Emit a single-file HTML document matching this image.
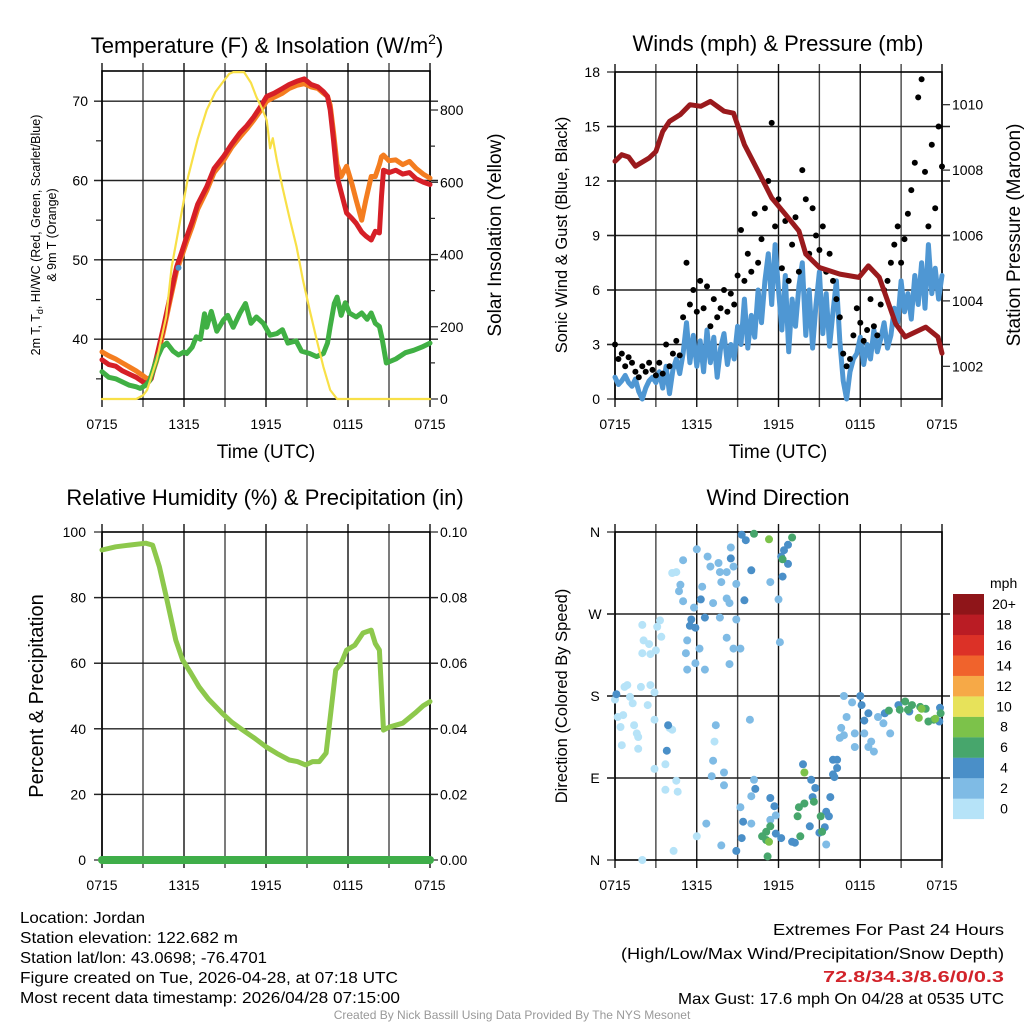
<!DOCTYPE html>
<html><head><meta charset="utf-8"><style>
html,body{margin:0;padding:0;background:#fff;}
svg{display:block;font-family:"Liberation Sans",Arial,sans-serif;}
</style></head><body>
<svg id="chart" width="1024" height="1024" viewBox="0 0 1024 1024" xmlns="http://www.w3.org/2000/svg">
<rect x="0" y="0" width="1024" height="1024" fill="#fff"/>
<g id="plots"></g>
<!-- titles -->
<text x="267" y="53" font-size="22" text-anchor="middle">Temperature (F) &amp; Insolation (W/m<tspan dy="-9" font-size="14">2</tspan><tspan dy="9">)</tspan></text>
<text x="778" y="51" font-size="22" text-anchor="middle">Winds (mph) &amp; Pressure (mb)</text>
<text x="265" y="505" font-size="22" text-anchor="middle">Relative Humidity (%) &amp; Precipitation (in)</text>
<text x="778" y="505" font-size="22" text-anchor="middle">Wind Direction</text>
<!-- axis titles -->
<text x="266" y="458" font-size="19" text-anchor="middle">Time (UTC)</text>
<text x="778" y="458" font-size="19" text-anchor="middle">Time (UTC)</text>
<text transform="translate(40,235) rotate(-90)" font-size="12.5" text-anchor="middle">2m T, T<tspan dy="3" font-size="9">d</tspan><tspan dy="-3">, HI/WC (Red, Green, Scarlet/Blue)</tspan></text>
<text transform="translate(56,235) rotate(-90)" font-size="12.5" text-anchor="middle">&amp; 9m T (Orange)</text>
<text transform="translate(501,235) rotate(-90)" font-size="19" text-anchor="middle">Solar Insolation (Yellow)</text>
<text transform="translate(567,235) rotate(-90)" font-size="16.5" text-anchor="middle">Sonic Wind &amp; Gust (Blue, Black)</text>
<text transform="translate(1020,235) rotate(-90)" font-size="19" text-anchor="middle">Station Pressure (Maroon)</text>
<text transform="translate(43,696) rotate(-90)" font-size="20" text-anchor="middle">Percent &amp; Precipitation</text>
<text transform="translate(567,696) rotate(-90)" font-size="16.5" text-anchor="middle">Direction (Colored By Speed)</text>
<!-- colorbar title -->
<text x="990" y="588" font-size="14" text-anchor="start">mph</text>
<!-- footer -->
<g font-size="16">
<text x="20" y="923" textLength="125" lengthAdjust="spacingAndGlyphs">Location: Jordan</text>
<text x="20" y="943" textLength="218" lengthAdjust="spacingAndGlyphs">Station elevation: 122.682 m</text>
<text x="20" y="963" textLength="247" lengthAdjust="spacingAndGlyphs">Station lat/lon: 43.0698; -76.4701</text>
<text x="20" y="983" textLength="378" lengthAdjust="spacingAndGlyphs">Figure created on Tue, 2026-04-28, at 07:18 UTC</text>
<text x="20" y="1003" textLength="380" lengthAdjust="spacingAndGlyphs">Most recent data timestamp: 2026/04/28 07:15:00</text>
</g>
<g font-size="16" text-anchor="end">
<text x="1004" y="935" textLength="231" lengthAdjust="spacingAndGlyphs">Extremes For Past 24 Hours</text>
<text x="1004" y="959" textLength="383" lengthAdjust="spacingAndGlyphs">(High/Low/Max Wind/Precipitation/Snow Depth)</text>
<text x="1004" y="982" fill="#d2232a" font-weight="bold" textLength="181" lengthAdjust="spacingAndGlyphs">72.8/34.3/8.6/0/0.3</text>
<text x="1004" y="1004" textLength="326" lengthAdjust="spacingAndGlyphs">Max Gust: 17.6 mph On 04/28 at 0535 UTC</text>
</g>
<text x="512" y="1019" font-size="12" fill="#999" text-anchor="middle">Created By Nick Bassill Using Data Provided By The NYS Mesonet</text>
</svg>
<script>
// ---------- DATA ----------
const xTickLabels = ["0715","1315","1915","0115","0715"];
const tempTicks = [40,50,60,70];
const solarTicks = [0,200,400,600,800];
const windTicks = [0,3,6,9,12,15,18];
const presTicks = [1002,1004,1006,1008,1010];
const rhTicks = [0,20,40,60,80,100];
const precipTicks = ["0.00","0.02","0.04","0.06","0.08","0.10"];
const dirTicks = ["N","E","S","W","N"];
const speedLabels = ["0","2","4","6","8","10","12","14","16","18","20+"];
const speedColors = ["#b6e3f8","#7fbbe5","#4a8fc8","#47a66c","#7cc24a","#e7e25a","#f6a947","#f0632c","#dc3127","#ba1c24","#8f1519"];

const redH = [0,0.5,1,1.5,2,2.5,3,3.3,3.6,4,4.5,5,5.46,5.8,6.2,6.6,7,7.66,8.2,8.88,9.5,10.1,10.6,11.1,11.6,12.05,12.6,13.2,13.7,14.25,14.8,15.3,15.8,16.2,16.5,16.7,16.95,17.2,17.5,17.9,18.3,18.6,19.0,19.3,19.7,20.0,20.3,20.45,20.6,21.0,21.5,22,22.5,23,23.5,24];
const redT = [37.4,36.8,36.6,36.0,35.6,35.2,34.6,34.4,35.0,37.8,41.5,45.5,49.1,50.8,52.9,54.8,57.0,59.2,61.5,63.0,64.6,66.0,66.9,68.0,69.3,70.6,71.0,71.6,72.1,72.5,72.8,72.1,71.8,71.2,70.6,68.9,65.0,60.5,58.5,55.9,55.2,54.6,53.5,53.0,52.5,53.6,53.4,58.0,61.3,61.0,61.3,60.8,61.0,60.2,59.8,59.5];
const orangeT = [38.4,37.9,37.5,37.0,36.5,36.0,35.4,35.0,35.2,37.3,41.0,45.0,48.6,50.3,52.3,54.2,56.4,58.7,61.0,62.5,64.2,65.5,66.5,67.6,68.8,70.0,70.5,71.0,71.6,72.0,72.2,71.8,71.6,71.0,70.6,69.5,66.0,62.0,60.5,61.8,59.5,57.5,55.0,57.5,60.5,60.5,62.0,63.0,63.2,62.5,62.6,62.0,62.4,61.5,60.8,60.3];
const dewH = [0,0.5,1,1.5,2,2.5,2.8,3.2,3.5,4,4.4,4.75,5.2,5.6,6.0,6.2,6.6,6.9,7.2,7.5,7.66,8.0,8.4,8.88,9.2,9.6,10.1,10.5,10.9,11.3,11.8,12.3,12.8,13.2,13.6,14.2,14.6,15.2,15.7,16.2,16.5,16.7,17.0,17.2,17.5,17.8,18.1,18.6,19.0,19.4,19.7,20.0,20.3,20.5,20.8,21.5,22.2,22.8,23.4,24];
const dewT = [35.9,35.2,35.0,34.6,34.2,34.0,33.8,34.2,34.8,37.5,39.0,39.5,38.5,38.0,38.4,38.2,39.0,40.3,40.0,43.2,41.5,43.5,41.0,42.4,43.0,41.5,43.3,44.5,42.0,42.8,42.0,40.5,40.7,41.2,39.5,39.8,38.5,38.2,37.8,38.2,39.5,41.6,44.5,45.3,43.0,44.6,43.3,42.8,43.3,42.5,43.3,42.0,41.6,40.0,37.0,37.5,38.3,38.6,39.0,39.5];
const wcH = [5.6];
const wcT = [49.0];
const solarH = [0,2.5,3.0,3.3,4.0,4.7,5.1,5.7,6.3,7.0,7.66,8.3,8.9,9.3,9.6,10.4,10.9,11.3,11.7,12.05,12.3,12.5,12.8,13.2,13.7,14.24,14.7,15.2,15.7,16.2,16.7,17.2,24];
const solarW = [0,0,10,25,108,228,366,490,615,720,800,850,880,900,905,905,875,836,805,772,694,722,660,587,505,421,330,246,165,89,25,0,0];

// wind & gust every 15 minutes from 0715
const windMph = [1.2,0.8,1.0,1.3,0.9,0.7,1.1,0.4,0.0,0.6,1.0,1.2,0.9,
 1.5,0.6,1.8,0.3,1.6,2.2,1.4,
 2.5,4.2,2.0,3.5,1.8,
 3.2,1.5,3.8,2.0,3.4,1.2,2.8,3.6,1.9,3.0,2.2,4.0,
 3.0,5.5,2.8,4.6,3.4,6.0,4.2,
 6.5,8.0,5.2,8.5,6.0,
 3.8,6.8,2.6,5.5,4.0,6.2,
 7.5,3.5,6.0,2.8,5.2,7.0,3.6,5.8,2.9,4.8,6.5,3.2,
 1.0,0.0,1.5,2.2,
 2.5,3.4,1.9,3.0,2.2,3.8,2.6,3.3,4.2,2.8,3.5,
 5.0,4.2,6.5,4.8,5.8,4.4,6.8,5.2,
 7.5,5.0,8.5,5.8,7.2,5.5,6.8];
const gustMph = [3.0,2.2,2.5,1.8,2.3,2.0,1.5,1.2,1.8,1.5,2.0,1.6,1.3,
 2.0,1.4,3.0,1.8,2.5,3.2,2.4,
 4.5,7.5,5.2,6.0,4.8,
 6.5,5.0,6.2,4.0,5.5,4.5,5.0,6.0,4.8,5.8,5.2,6.8,
 9.3,6.5,8.0,7.0,10.2,7.5,8.8,
 10.5,12.0,15.2,9.5,11.0,
 7.2,9.8,6.5,8.5,10.0,7.0,
 12.6,11.0,8.0,10.5,9.0,8.2,9.5,7.0,8.0,6.5,5.5,4.5,
 2.5,1.8,2.2,3.5,
 5.0,4.2,3.2,3.8,5.5,4.0,3.5,5.2,6.0,6.5,7.5,
 8.5,9.5,7.5,8.8,10.2,11.5,13.0,16.6,
 17.6,12.5,9.5,14.0,10.5,15.0,12.8];
const presH = [0,0.5,1,1.5,2.5,3,3.5,4,4.8,5.5,6.3,7.0,8.0,8.7,9.5,10.5,11.5,12.5,13.5,14.0,15.0,16.5,17.9,18.6,19.4,20.6,21.3,22.8,23.7,24];
const presMb = [1008.27,1008.47,1008.4,1008.12,1008.37,1008.57,1009.18,1009.49,1009.7,1010.0,1009.95,1010.1,1009.8,1009.74,1008.78,1007.97,1007.15,1006.65,1006.14,1005.43,1005.02,1004.82,1004.72,1005.07,1004.72,1003.3,1002.9,1003.2,1002.9,1002.4];

const rhH = [0,1,2,3.2,3.7,4.2,4.7,5.4,5.9,6.5,7.1,7.8,8.8,9.5,10.3,11.2,12.0,12.8,13.7,14.3,14.9,15.4,15.9,16.4,17.1,17.5,17.9,18.5,19.1,19.7,20.0,20.3,20.6,21.0,22.0,22.9,23.5,24];
const rhPct = [94.5,95.5,96,96.6,96,89.4,80.3,67,61,57,52.8,49,44.7,42,39.6,37,34.5,32.5,30.5,30,29,30,30,32.6,57.9,60,64,65.5,69.2,70.1,66,64,39.6,40.5,41.7,44.8,47,48.3];
const precipH = [0,24];
const precipIn = [0,0];

const dirH = [0,0.2,0.4,0.7,1.1,1.3,1.4,1.6,1.7,0.5,1.7,1.9,2.4,2.6,2.9,2.9,2.0,2.1,2.5,2.0,2.6,3.0,3.1,3.3,3.4,4.2,4.5,2.9,3.7,3.7,4.5,4.6,4.0,4.2,7.3,6.0,4.3,2.0,0.9,0.6,
 5.0,6.0,6.8,7.0,7.6,7.7,8.2,7.8,6.4,4.8,4.7,5.0,5.8,7.2,8.2,8.4,8.7,8.9,8.5,11.4,12.0,7.7,8.9,8.2,8.7,9.2,6.2,5.3,5.2,5.9,5.3,6.6,8.4,12.1,9.9,7.4,7.2,7.1,8.0,8.0,10.2,10.0,9.2,6.7,7.8,10.0,11.8,11.4,15.5,16.8,17.4,17.0,16.6,16.8,16.5,17.6,18.3,18.8,19.0,18.6,17.6,19.3,19.7,20.2,
 0.1,3.9,3.8,5.6,5.5,5.9,6.6,6.3,8.5,9.3,9.6,10.0,9.5,12.7,12.4,12.2,12.7,12.3,10.3,11.4,11.7,9.4,9.3,8.9,11.8,12.2,13.0,13.2,14.3,15.0,15.4,13.8,14.4,14.7,14.5,15.8,15.5,15.7,16.0,16.3,16.3,16.0,16.1,18.0,18.1,18.3,18.6,19.8,20.8,21.6,23.85,23.8,
 10.2,13.0,12.3,11.2,11.1,10.8,11.1,11.4,13.6,13.4,13.5,13.9,14.6,15.1,15.2,20.1,20.9,21.3,21.8,22.4,22.8,23.0,23.4,23.9,21.5,
 11.3,13.9,11.3,22.3,22.5,23.5];
const dirDeg = [176,157,146,190,179,172,148,139,135,126,122,190,170,192,184,154,258,241,237,227,226,230,256,263,245,315,316,100,105,77,87,75,145,143,130,26,10,0,192,159,
 329,341,333,322,326,316,316,305,300,302,295,284,277,282,287,282,322,303,343,305,286,266,264,244,232,232,232,241,227,216,209,209,215,239,154,148,109,92,96,82,88,70,58,40,16,40,49,44,17,180,173,157,145,137,134,139,139,130,119,124,124,157,150,139,
 182,148,120,264,257,255,266,286,331,357,351,318,285,346,340,333,325,311,78,68,59,42,24,10,29,24,20,19,37,30,36,105,88,79,69,69,53,48,110,110,101,94,91,180,170,153,161,161,170,163,167,152,
 358,354,330,4,31,26,22,37,26,48,58,62,64,48,31,164,165,174,170,168,166,152,154,161,165,
 352,96,20,156,166,155];
const dirSpeed = [1,1,1,1,1,1,1,1,1,1,1,1,1,1,1,1,1,1,1,1,1,1,1,1,1,1,1,1,1,1,1,1,1,1,1,1,1,1,1,1,
 2.5,2.5,2.5,2.5,2.5,2.5,2.5,2.5,2.5,2.5,2.5,2.5,2.5,2.5,2.5,2.5,2.5,2.5,2.5,2.5,2.5,2.5,2.5,2.5,2.5,2.5,2.5,2.5,2.5,2.5,2.5,2.5,2.5,2.5,2.5,2.5,2.5,2.5,2.5,2.5,2.5,2.5,2.5,2.5,2.5,2.5,2.5,2.5,2.5,2.5,2.5,2.5,2.5,2.5,2.5,2.5,2.5,2.5,2.5,2.5,2.5,2.5,2.5,2.5,
 4.5,4.5,4.5,4.5,4.5,4.5,4.5,4.5,4.5,4.5,4.5,4.5,4.5,4.5,4.5,4.5,4.5,4.5,4.5,4.5,4.5,4.5,4.5,4.5,4.5,4.5,4.5,4.5,4.5,4.5,4.5,4.5,4.5,4.5,4.5,4.5,4.5,4.5,4.5,4.5,4.5,4.5,4.5,4.5,4.5,4.5,4.5,4.5,4.5,4.5,4.5,4.5,
 6.5,6.5,6.5,6.5,6.5,6.5,6.5,6.5,6.5,6.5,6.5,6.5,6.5,6.5,6.5,6.5,6.5,6.5,6.5,6.5,6.5,6.5,6.5,6.5,6.5,
 8.5,8.5,8.5,8.5,8.5,8.5];

// ---------- DRAW ----------
const NS = "http://www.w3.org/2000/svg";
const root = document.getElementById("plots");
function mk(tag, parent){ const e=document.createElementNS(NS,tag); parent.appendChild(e); return e; }

const P1={x0:102,x1:430,y0:71,y1:399};
const P2={x0:615,x1:942,y0:72,y1:399};
const P3={x0:102,x1:430,y0:532,y1:860};
const P4={x0:615,x1:942,y0:532,y1:860};
function xs(P,h){ return P.x0 + h*(P.x1-P.x0)/24; }
function lin(P,v,lo,hi){ return P.y1 - (v-lo)/(hi-lo)*(P.y1-P.y0); }
const tY=v=>lin(P1,v,32.46,73.8), sY=v=>lin(P1,v,0,908);
const wY=v=>lin(P2,v,0,18), pY=v=>lin(P2,v,1001.0,1011.0);
const rY=v=>lin(P3,v,0,100), qY=v=>lin(P3,v,0,0.1);
const dY=v=>lin(P4,v,0,360);

function frame(P, name, hY, xlabels){
  const g=mk("g",root);
  
  
  for(let i=0;i<=8;i++){
    const x=P.x0+i*(P.x1-P.x0)/8;
    const l=mk("line",g);
    
    
    l.setAttribute("x1",x);l.setAttribute("x2",x);l.setAttribute("y1",P.y0-8);l.setAttribute("y2",P.y1+8);
    l.setAttribute("stroke",(i%2==0)?"#111":"#444");l.setAttribute("stroke-width","1.4");
  }
  hY.forEach(y=>{
    const l=mk("line",g);
    
    
    l.setAttribute("x1",P.x0-8);l.setAttribute("x2",P.x1+8);l.setAttribute("y1",y);l.setAttribute("y2",y);
    l.setAttribute("stroke","#222");l.setAttribute("stroke-width","1.4");
  });
  const r=mk("rect",g);
  
  
  r.setAttribute("x",P.x0);r.setAttribute("y",P.y0);r.setAttribute("width",P.x1-P.x0);r.setAttribute("height",P.y1-P.y0);
  r.setAttribute("fill","none");r.setAttribute("stroke","#000");r.setAttribute("stroke-width","1.6");
  xlabels.forEach((s,i)=>{
    const t=mk("text",g);
    
    
    t.setAttribute("x",P.x0+i*(P.x1-P.x0)/4);t.setAttribute("y",P.y1+30);
    t.setAttribute("font-size","14");t.setAttribute("text-anchor","middle");t.textContent=s;
  });
  return g;
}
function label(g,x,y,s,anchor,name){
  const t=mk("text",g);
  
  
  t.setAttribute("x",x);t.setAttribute("y",y+5);t.setAttribute("font-size","14");t.setAttribute("text-anchor",anchor);t.textContent=s;
}
function tick(g,x1,y,x2,name){
  const l=mk("line",g);
  
  
  l.setAttribute("x1",x1);l.setAttribute("x2",x2);l.setAttribute("y1",y);l.setAttribute("y2",y);
  l.setAttribute("stroke","#222");l.setAttribute("stroke-width","1.2");
}
function poly(pts,color,w,name){
  const p=mk("polyline",root);
  
  
  p.setAttribute("points",pts.map(a=>a[0].toFixed(1)+","+a[1].toFixed(1)).join(" "));
  p.setAttribute("fill","none");p.setAttribute("stroke",color);p.setAttribute("stroke-width",w);
  p.setAttribute("stroke-linejoin","round");p.setAttribute("stroke-linecap","round");
}
function dot(x,y,r,color,name){
  const c=mk("circle",root);
  
  
  c.setAttribute("cx",x.toFixed(1));c.setAttribute("cy",y.toFixed(1));c.setAttribute("r",r);c.setAttribute("fill",color);
}

// Panel 1
let g1=frame(P1,"temperature-panel",tempTicks.map(tY),xTickLabels);
tempTicks.forEach(v=>label(g1,P1.x0-14,tY(v),String(v),"end","temperature-tick-label"));
[35,45,55,65].forEach(v=>tick(g1,P1.x0-6,tY(v),P1.x0,"temperature-minor-tick"));
solarTicks.forEach(v=>{tick(g1,P1.x1,sY(v),P1.x1+8,"solar-tick");label(g1,P1.x1+10,sY(v),String(v),"start","solar-tick-label");});
[100,300,500,700].forEach(v=>tick(g1,P1.x1,sY(v),P1.x1+5,"solar-minor-tick"));
poly(redH.map((h,i)=>[xs(P1,h),tY(orangeT[i])]),"#f47d20",5,"9m-temperature-line");
poly(redH.map((h,i)=>[xs(P1,h),tY(redT[i])]),"#d61f27",5,"2m-temperature-line");
poly(dewH.map((h,i)=>[xs(P1,h),tY(dewT[i])]),"#40b044",5,"dewpoint-line");
wcH.forEach((h,i)=>dot(xs(P1,h),tY(wcT[i]),3,"#4a8fc8","wind-chill-point"));
poly(solarH.map((h,i)=>[xs(P1,h),sY(solarW[i])]),"#f8e047",2.2,"solar-insolation-line");

// Panel 2
let g2=frame(P2,"winds-panel",windTicks.filter(v=>v>0&&v<18).map(wY),xTickLabels);
windTicks.forEach(v=>{tick(g2,P2.x0-8,wY(v),P2.x0,"wind-tick");label(g2,P2.x0-15,wY(v),String(v),"end","wind-tick-label");});
presTicks.forEach(v=>{tick(g2,P2.x1,pY(v),P2.x1+8,"pressure-tick");label(g2,P2.x1+10,pY(v),String(v),"start","pressure-tick-label");});
poly(windMph.map((v,i)=>[xs(P2,i*0.25),wY(v)]),"#4f97d3",5,"sonic-wind-line");
gustMph.forEach((v,i)=>dot(xs(P2,i*0.25),wY(v),3,"#000","gust-point"));
poly(presH.map((h,i)=>[xs(P2,h),pY(presMb[i])]),"#9a1a1d",5,"station-pressure-line");

// Panel 3
let g3=frame(P3,"humidity-panel",[20,40,60,80].map(rY),xTickLabels);
rhTicks.forEach((v,i)=>{tick(g3,P3.x0-8,rY(v),P3.x0,"humidity-tick");label(g3,P3.x0-16,rY(v),String(v),"end","humidity-tick-label");
  tick(g3,P3.x1,rY(v),P3.x1+8,"precip-tick");label(g3,P3.x1+10,rY(v),precipTicks[i],"start","precip-tick-label");});
poly(rhH.map((h,i)=>[xs(P3,h),rY(rhPct[i])]),"#8dc84c",5,"relative-humidity-line");
poly(precipH.map((h,i)=>[xs(P3,h),qY(precipIn[i])]),"#3fae49",8,"precipitation-line");

// Panel 4
let g4=frame(P4,"wind-direction-panel",[90,180,270].map(dY),xTickLabels);
dirTicks.forEach((s,i)=>{tick(g4,P4.x0-8,dY(i*90),P4.x0,"direction-tick");label(g4,P4.x0-20,dY(i*90),s,"middle","direction-tick-label");});
dirH.forEach((h,i)=>{
  const bin=Math.min(10,Math.floor(dirSpeed[i]/2));
  dot(xs(P4,h),dY(dirDeg[i]),4,speedColors[bin],"wind-direction-point");
});
// colorbar
const cb=mk("g",root);


speedColors.forEach((c,i)=>{
  const top=594+(10-i)*20.45;
  const r=mk("rect",cb);
  
  
  r.setAttribute("x",953);r.setAttribute("y",top);r.setAttribute("width",31);r.setAttribute("height",20.6);r.setAttribute("fill",c);
  const t=mk("text",cb);
  
  
  t.setAttribute("x",1004);t.setAttribute("y",top+15);t.setAttribute("font-size","14");t.setAttribute("text-anchor","middle");t.textContent=speedLabels[i];
});
</script>
</body></html>
